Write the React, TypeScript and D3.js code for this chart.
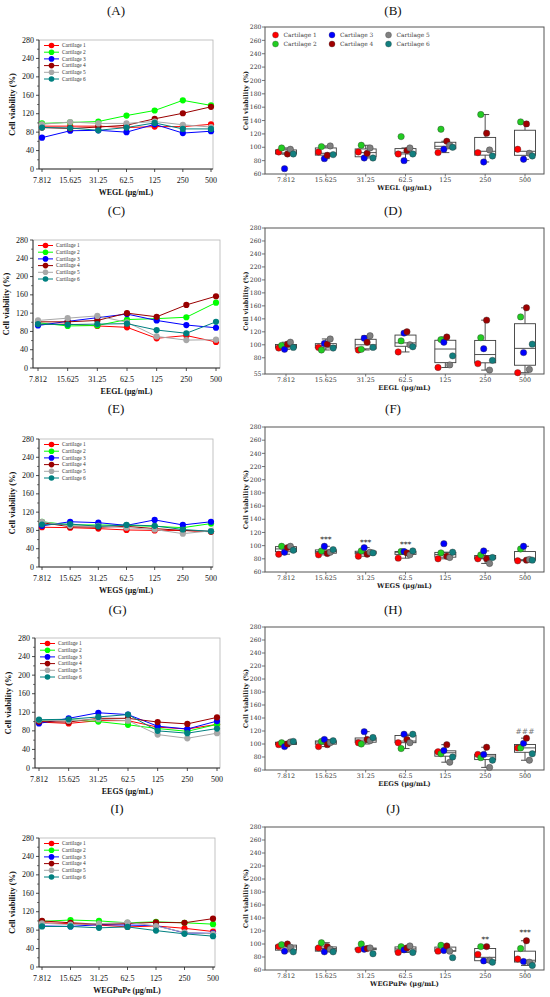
import * as d3 from "d3";
import React from "react";

// concentrations (µg/mL) shared by every panel
const concentrations = ["7.812", "15.625", "31.25", "62.5", "125", "250", "500"];
const seriesNames = ["Cartilage 1", "Cartilage 2", "Cartilage 3", "Cartilage 4", "Cartilage 5", "Cartilage 6"];
const lineColours = ["#ff0000", "#00ff00", "#0000ff", "#990000", "#a8a8a8", "#008080"];
const dotColours = ["#ff0000", "#22cc22", "#0000ff", "#a00000", "#808080", "#127f7f"];

// cell viability (%) per cartilage, one row per cartilage
const weglValues = [
    [93, 93, 93, 90, 92, 92, 97],
    [99, 101, 103, 116, 127, 149, 138],
    [68, 83, 84, 80, 97, 78, 82],
    [90, 88, 91, 95, 109, 121, 135],
    [97, 102, 99, 99, 103, 96, 91],
    [90, 89, 84, 90, 100, 87, 87],
];
const eeglValues = [
    [95, 96, 92, 89, 65, 71, 57],
    [99, 92, 93, 106, 108, 111, 143],
    [93, 102, 110, 118, 104, 94, 88],
    [101, 101, 104, 120, 112, 138, 157],
    [104, 109, 114, 100, 69, 61, 62],
    [96, 95, 96, 97, 83, 76, 101],
];
const wegsValues = [
    [87, 86, 84, 81, 80, 80, 77],
    [99, 92, 92, 91, 89, 86, 95],
    [90, 99, 97, 91, 103, 92, 99],
    [97, 88, 87, 89, 84, 80, 78],
    [99, 90, 90, 86, 82, 73, 79],
    [93, 94, 89, 92, 90, 82, 78],
];
const eegsValues = [
    [99, 96, 102, 102, 88, 84, 94],
    [102, 104, 100, 93, 85, 79, 94],
    [96, 107, 119, 115, 90, 84, 101],
    [100, 99, 107, 107, 99, 95, 109],
    [103, 102, 105, 102, 72, 64, 75],
    [104, 105, 110, 115, 80, 75, 85],
];
const wegpupeValues = [
    [96, 94, 91, 87, 89, 84, 77],
    [99, 102, 100, 96, 98, 96, 93],
    [89, 88, 92, 91, 90, 74, 73],
    [100, 96, 93, 94, 97, 96, 105],
    [95, 92, 94, 97, 89, 75, 72],
    [88, 88, 85, 87, 79, 72, 67],
];

const extractNames = ["WEGL", "EEGL", "WEGS", "EEGS", "WEGPuPe"];
const lineTitles = ["(A)", "(C)", "(E)", "(G)", "(I)"];
const boxTitles = ["(B)", "(D)", "(F)", "(H)", "(J)"];

const lineTicks = [0, 40, 80, 120, 160, 200, 240, 280];
const boxTicks = [60, 80, 100, 120, 140, 160, 180, 200, 220, 240, 260, 280];
const eeglBoxTicks = [55, 80, 100, 120, 140, 160, 180, 200, 220, 240, 260, 280];
const boxMinima = [60, 55, 60, 60, 60];

// significance marks: concentration, label, height (%)
const wegsMarks = [
    { conc: "15.625", label: "***", value: 111 },
    { conc: "31.25", label: "***", value: 107 },
    { conc: "62.5", label: "***", value: 103 },
];
const eegsMarks = [{ conc: "500", label: "###", value: 121 }];
const wegpupeMarks = [
    { conc: "250", label: "**", value: 108 },
    { conc: "500", label: "***", value: 119 },
];

const allValues = [weglValues, eeglValues, wegsValues, eegsValues, wegpupeValues];
const allMarks: any[] = [[], [], wegsMarks, eegsMarks, wegpupeMarks];

const serif = "'Liberation Serif', 'Times New Roman', serif";
const mplSerif = "'DejaVu Serif', serif";

const titleRows = [10, 210, 408, 609, 808];
const lineBoxes = [
    { left: 39, right: 213, top: 40, bottom: 169, inset: 3 },
    { left: 33, right: 220, top: 240, bottom: 368, inset: 5 },
    { left: 39, right: 213, top: 439, bottom: 567, inset: 3 },
    { left: 35, right: 220, top: 638, bottom: 768, inset: 4 },
    { left: 39, right: 215, top: 838, bottom: 967, inset: 3 },
];
const boxFrames = [
    { left: 265, right: 544, top: 27, bottom: 174 },
    { left: 265, right: 544, top: 228, bottom: 374 },
    { left: 265, right: 544, top: 427, bottom: 572 },
    { left: 265, right: 544, top: 627, bottom: 770 },
    { left: 265, right: 544, top: 827, bottom: 970 },
];

function LinePanel(props: { values: number[][]; title: string; label: string; frame: any; titleY: number }) {
    const f = props.frame;
    const x = d3.scalePoint<string>().domain(concentrations).range([f.left + f.inset, f.right - f.inset + 1]);
    const y = d3.scaleLinear().domain([0, 280]).range([f.bottom, f.top]);
    const line = d3.line<number>()
        .x((_, i) => x(concentrations[i])!)
        .y(d => y(d));
    const minor = d3.range(20, 280, 40);

    return (
        <g>
            <text x={(f.left + f.right) / 2 - 10} y={props.titleY} fontFamily={serif} fontSize={13}
                textAnchor="middle" dominantBaseline="central" fill="#111">{props.title}</text>
            <rect x={f.left} y={f.top} width={f.right - f.left} height={f.bottom - f.top}
                fill="white" stroke="#b4b4b4" strokeWidth={0.8} />
            <line x1={f.left} x2={f.left} y1={f.top} y2={f.bottom} stroke="#222" strokeWidth={0.9} />
            <line x1={f.left} x2={f.right} y1={f.bottom} y2={f.bottom} stroke="#222" strokeWidth={0.9} />
            {lineTicks.map(t => (
                <g key={t}>
                    <line x1={f.left - 3} x2={f.left} y1={y(t)} y2={y(t)} stroke="#222" strokeWidth={0.8} />
                    <text x={f.left - 5} y={y(t)} dy="0.33em" textAnchor="end" fontFamily={serif} fontSize={8} fill="#111">{t}</text>
                </g>
            ))}
            {minor.map(t => (
                <line key={t} x1={f.left - 2} x2={f.left} y1={y(t)} y2={y(t)} stroke="#222" strokeWidth={0.6} />
            ))}
            {concentrations.map(c => (
                <g key={c}>
                    <line x1={x(c)} x2={x(c)} y1={f.bottom} y2={f.bottom + 3} stroke="#222" strokeWidth={0.8} />
                    <text x={x(c)} y={f.bottom + 13.5} textAnchor="middle" fontFamily={serif} fontSize={8} fill="#111">{c}</text>
                </g>
            ))}
            <text x={(f.left + f.right) / 2} y={f.bottom + 25.5} textAnchor="middle" fontFamily={serif}
                fontSize={8} fontWeight="bold" fill="#111">{props.label + " (\u03bcg/mL)"}</text>
            <text transform={`translate(${f.left - 27},${(f.top + f.bottom) / 2}) rotate(-90)`} textAnchor="middle"
                dy="0.35em" fontFamily={serif} fontSize={8.5} fontWeight="bold" fill="#111">Cell viability (%)</text>
            {props.values.map((s, i) => (
                <g key={i}>
                    <path d={line(s) || ""} fill="none" stroke={lineColours[i]} strokeWidth={1} />
                    {s.map((v, j) => (
                        <circle key={j} cx={x(concentrations[j])} cy={y(v)} r={3.1} fill={lineColours[i]} />
                    ))}
                </g>
            ))}
            {seriesNames.map((n, i) => {
                const ly = f.top + 5.5 + i * 6.7;
                const lx = f.left + 5;
                return (
                    <g key={n}>
                        <line x1={lx} x2={lx + 15} y1={ly} y2={ly} stroke={lineColours[i]} strokeWidth={1} />
                        <circle cx={lx + 7.5} cy={ly} r={2.8} fill={lineColours[i]} />
                        <text x={lx + 18} y={ly} dy="0.35em" fontFamily={serif} fontSize={5.4} fill="#333">{n}</text>
                    </g>
                );
            })}
        </g>
    );
}

function boxStats(vals: number[]) {
    const s = vals.slice().sort(d3.ascending);
    const q1 = d3.quantileSorted(s, 0.25)!;
    const med = d3.quantileSorted(s, 0.5)!;
    const q3 = d3.quantileSorted(s, 0.75)!;
    const iqr = q3 - q1;
    const lo = d3.min(s.filter(v => v >= q1 - 1.5 * iqr))!;
    const hi = d3.max(s.filter(v => v <= q3 + 1.5 * iqr))!;
    return { q1, med, q3, lo, hi };
}

function BoxPanel(props: { values: number[][]; title: string; label: string; frame: any; titleY: number;
    yMin: number; ticks: number[]; marks: any[]; legend: boolean }) {
    const f = props.frame;
    const x = d3.scalePoint<string>().domain(concentrations).range([f.left + 21, f.right - 19]);
    const y = d3.scaleLinear().domain([props.yMin, 280]).range([f.bottom, f.top]);
    const dodge = d3.scalePoint<number>().domain(d3.range(6)).range([-7.3, 7.3]);
    const bw = 21;
    const boxStroke = "#3c3c3c";

    return (
        <g>
            <text x={393} y={props.titleY} fontFamily={serif} fontSize={13}
                textAnchor="middle" dominantBaseline="central" fill="#111">{props.title}</text>
            <rect x={f.left} y={f.top} width={f.right - f.left} height={f.bottom - f.top}
                fill="white" stroke="#555" strokeWidth={1} />
            {props.ticks.map(t => (
                <g key={t}>
                    <line x1={f.left - 3} x2={f.left} y1={y(t)} y2={y(t)} stroke="#555" strokeWidth={0.8} />
                    <text x={f.left - 3.5} y={y(t)} dy="0.36em" textAnchor="end" fontFamily={mplSerif} fontSize={6.1} fill="#333">{t}</text>
                </g>
            ))}
            {concentrations.map(c => (
                <g key={c}>
                    <line x1={x(c)} x2={x(c)} y1={f.bottom} y2={f.bottom + 2.5} stroke="#555" strokeWidth={0.8} />
                    <text x={x(c)} y={f.bottom + 8} textAnchor="middle" fontFamily={mplSerif} fontSize={6.3} fill="#333">{c}</text>
                </g>
            ))}
            <text x={(f.left + f.right) / 2} y={f.bottom + 16} textAnchor="middle" fontFamily={mplSerif}
                fontSize={6.6} fontWeight="bold" fill="#222">{props.label + " (\u03bcg/mL)"}</text>
            <text transform={`translate(${f.left - 19},${(f.top + f.bottom) / 2}) rotate(-90)`} textAnchor="middle"
                dy="0.35em" fontFamily={mplSerif} fontSize={6.4} fontWeight="bold" fill="#222">Cell viability (%)</text>
            {concentrations.map((c, j) => {
                const st = boxStats(props.values.map(s => s[j]));
                const cx = x(c)!;
                return (
                    <g key={c} stroke={boxStroke} strokeWidth={0.9} fill="none">
                        <line x1={cx} x2={cx} y1={y(st.q3)} y2={y(st.hi)} />
                        <line x1={cx} x2={cx} y1={y(st.q1)} y2={y(st.lo)} />
                        <line x1={cx - 4} x2={cx + 4} y1={y(st.hi)} y2={y(st.hi)} />
                        <line x1={cx - 4} x2={cx + 4} y1={y(st.lo)} y2={y(st.lo)} />
                        <rect x={cx - bw / 2} y={y(st.q3)} width={bw} height={Math.max(0.5, y(st.q1) - y(st.q3))} fill="white" />
                        <line x1={cx - bw / 2} x2={cx + bw / 2} y1={y(st.med)} y2={y(st.med)} />
                    </g>
                );
            })}
            {props.values.map((s, i) => (
                <g key={i}>
                    {s.map((v, j) => (
                        <circle key={j} cx={x(concentrations[j])! + dodge(i)!} cy={y(v)} r={3.2}
                            fill={dotColours[i]} stroke="#333" strokeWidth={0.4} />
                    ))}
                </g>
            ))}
            {props.marks.map((m: any) => (
                <text key={m.conc} x={x(m.conc)} y={y(m.value) + 3.5} textAnchor="middle" fontFamily={mplSerif}
                    fontSize={7.5} fill={m.label === "###" ? "#777" : "#222"}>{m.label}</text>
            ))}
            {props.legend && seriesNames.map((n, i) => {
                const col = Math.floor(i / 2);
                const row = i % 2;
                const lx = f.left + 10.5 + col * 56.5;
                const ly = f.top + 8 + row * 9;
                return (
                    <g key={n}>
                        <circle cx={lx} cy={ly} r={3} fill={dotColours[i]} stroke="#333" strokeWidth={0.3} />
                        <text x={lx + 8} y={ly} dy="0.35em" fontFamily={mplSerif} fontSize={5.9} fill="#444">{n}</text>
                    </g>
                );
            })}
        </g>
    );
}

export default function App() {
    return (
        <svg width={550} height={997} style={{ position: "absolute", left: 0, top: 0, background: "white" }}>
            <rect width={550} height={997} fill="white" />
            {allValues.map((vals, k) => (
                <g key={k}>
                    <LinePanel values={vals} title={lineTitles[k]} label={extractNames[k]}
                        frame={lineBoxes[k]} titleY={titleRows[k]} />
                    <BoxPanel values={vals} title={boxTitles[k]} label={extractNames[k]} frame={boxFrames[k]}
                        titleY={titleRows[k]} yMin={boxMinima[k]} ticks={k === 1 ? eeglBoxTicks : boxTicks}
                        marks={allMarks[k]} legend={k === 0} />
                </g>
            ))}
        </svg>
    );
}
